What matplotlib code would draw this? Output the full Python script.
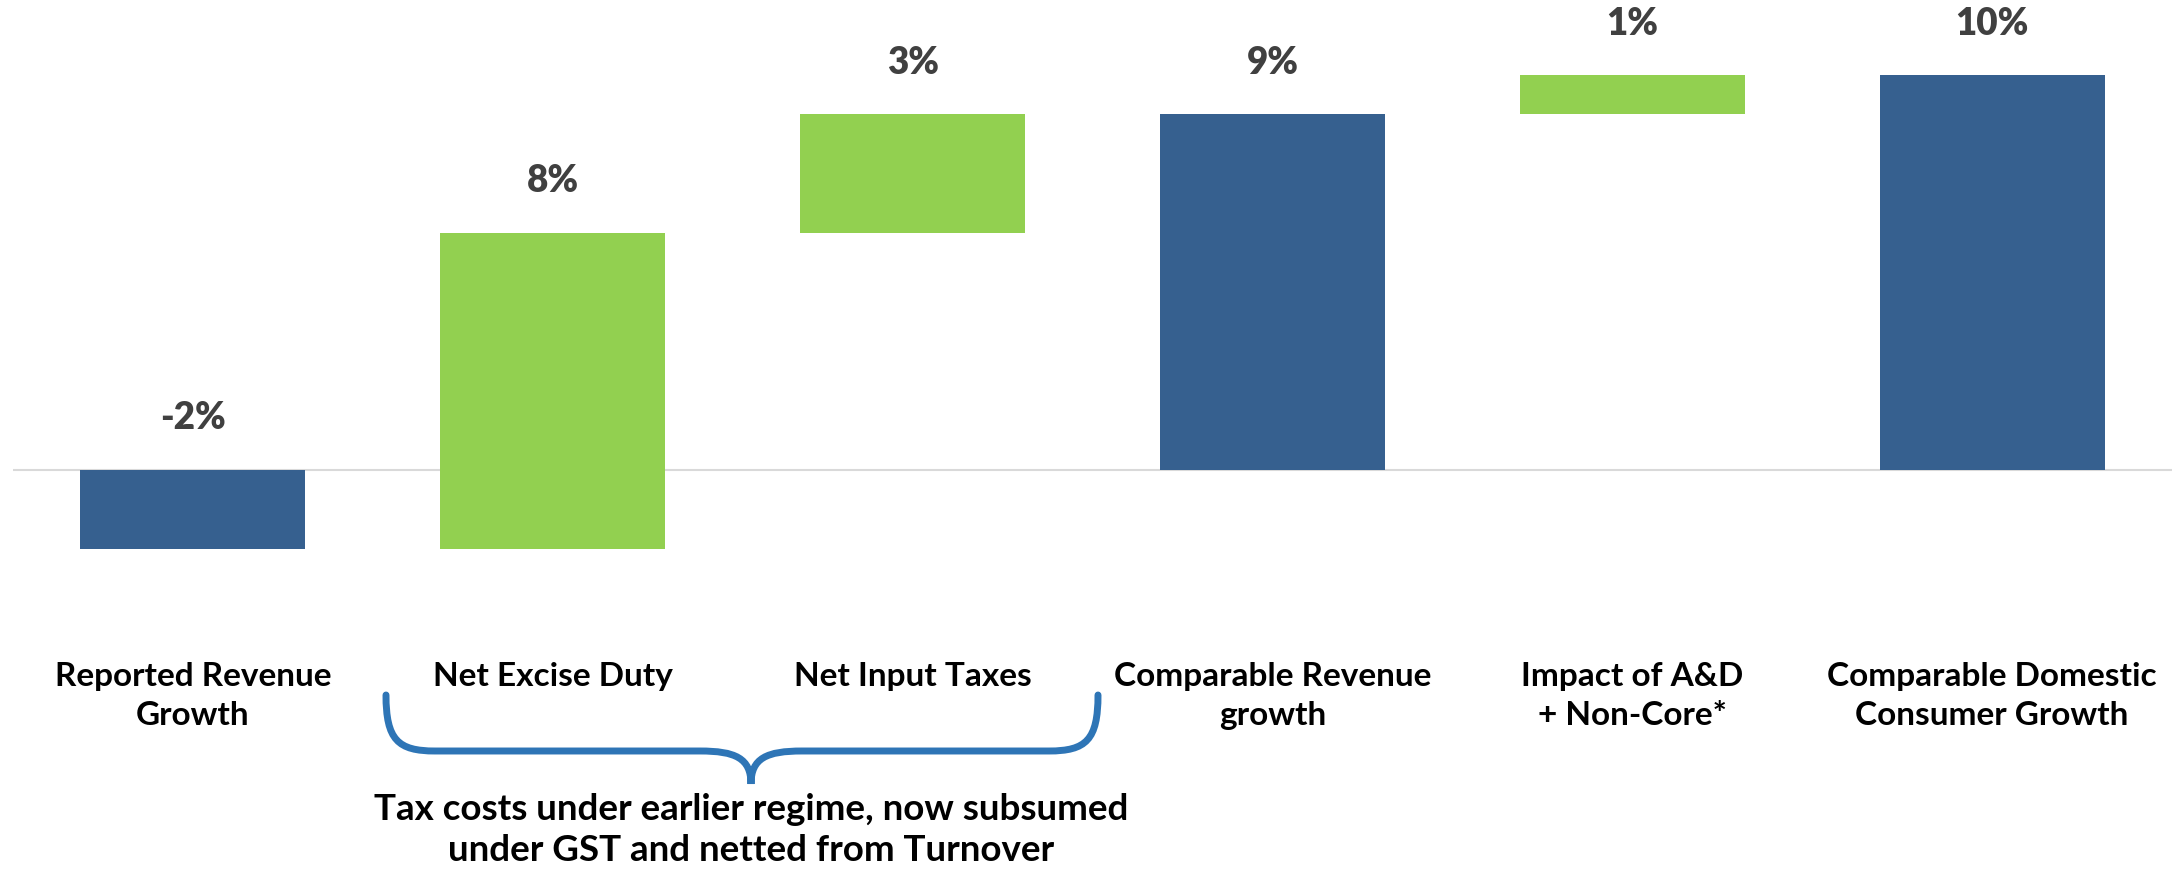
import numpy as np
import matplotlib
matplotlib.use("Agg")
import matplotlib.pyplot as plt
from matplotlib.path import Path
from matplotlib.patches import PathPatch

plt.rcParams['font.family'] = ['Lato', 'DejaVu Sans']
plt.rcParams['font.weight'] = 'bold'

# data
categories = ["Reported Revenue\nGrowth", "Net Excise Duty", "Net Input Taxes",
              "Comparable Revenue\ngrowth", "Impact of A&D\n+ Non-Core*",
              "Comparable Domestic\nConsumer Growth"]
values = [-2, 8, 3, 9, 1, 10]
is_total = [True, False, False, True, False, True]
value_labels = ["-2%", "8%", "3%", "9%", "1%", "10%"]
note = "Tax costs under earlier regime, now subsumed\nunder GST and netted from Turnover"

blue = "#36608F"
green = "#92D050"

# waterfall bases
bases = []
run = 0
for v, t in zip(values, is_total):
    if t:
        bases.append(0)
        run = v
    else:
        bases.append(run)
        run = run + v
bases = np.array(bases)
vals = np.array(values)
colors = [blue if t else green for t in is_total]

fig = plt.figure(figsize=(21.8, 8.71), dpi=100)
ax = fig.add_axes([13/2180, 1-588/871, (2172-13)/2180, 588/871])
x = np.arange(len(values))
ax.bar(x, vals, bottom=bases, width=0.625, color=colors, zorder=2)
ax.axhline(0, color="#D9D9D9", lw=1.5, zorder=1)
ax.set_xlim(-0.5, len(values)-0.5)
ax.set_ylim(-3, 11.9)

for xi, b, v, lab in zip(x, bases, vals, value_labels):
    top = max(b, b+v)
    ax.annotate(lab, (xi, top), xytext=(0, 37), textcoords="offset points",
                ha="center", va="center", fontsize=26.5, fontweight="heavy", color="#404040")

ax.set_xticks(x)
ax.set_xticklabels(categories, fontsize=24, fontweight="bold", color="black", linespacing=1.45)
ax.tick_params(axis="x", length=0, pad=53)
ax.set_yticks([])
for s in ax.spines.values():
    s.set_visible(False)

# brace + note in pixel overlay
ov = fig.add_axes([0, 0, 1, 1])
ov.set_xlim(0, 2180)
ov.set_ylim(871, 0)
ov.axis("off")
ov.patch.set_alpha(0)
L, R, C = 386, 1098, 751
yt, yh, ytip = 695, 751, 784
verts = [(L, yt), (L, 740), (398, yh), (435, yh),
         (700, yh),
         (735, yh), (C, 758), (C, ytip),
         (C, 758), (767, yh), (802, yh),
         (1049, yh),
         (1086, yh), (R, 740), (R, yt)]
codes = [Path.MOVETO, Path.CURVE4, Path.CURVE4, Path.CURVE4,
         Path.LINETO,
         Path.CURVE4, Path.CURVE4, Path.CURVE4,
         Path.CURVE4, Path.CURVE4, Path.CURVE4,
         Path.LINETO,
         Path.CURVE4, Path.CURVE4, Path.CURVE4]
ov.add_patch(PathPatch(Path(verts, codes), fill=False, edgecolor="#2E75B6", lw=5, capstyle="round"))
ov.text(C, 830, note, ha="center", va="center", fontsize=26.5, fontweight="bold",
        color="black", linespacing=1.27)

fig.savefig("out.png", dpi=100)
